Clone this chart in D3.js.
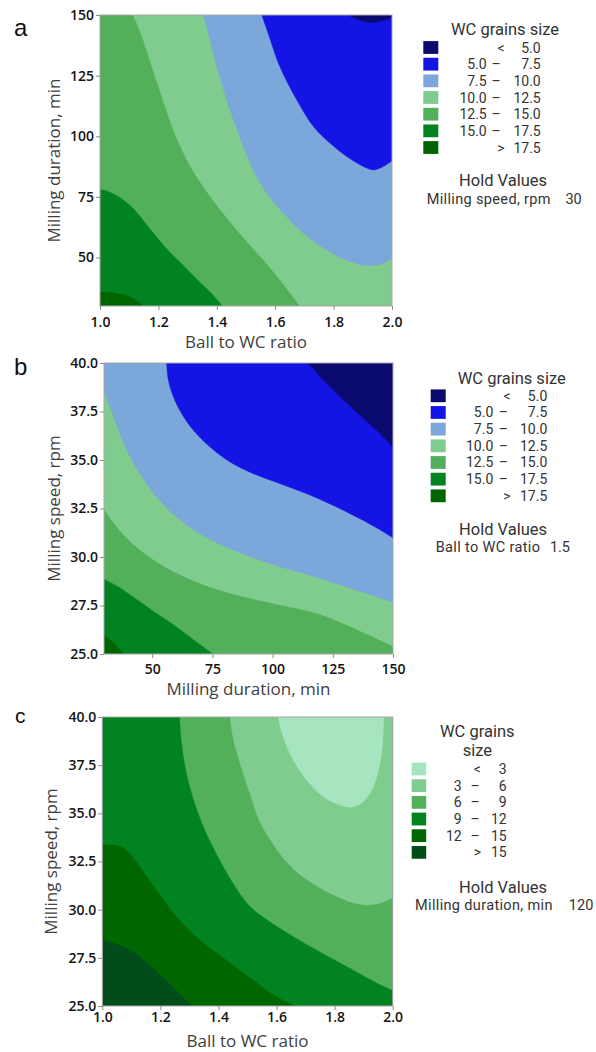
<!DOCTYPE html>
<html>
<head>
<meta charset="utf-8">
<script src="https://cdn.jsdelivr.net/npm/d3@7"></script>
<style>
  body { margin: 0; background: #fff; }
  svg text { font-family: "Open Sans", "Noto Sans", sans-serif; }
  svg .legend text { font-family: Roboto, "Open Sans", sans-serif; }
</style>
</head>
<body>
<svg id="fig" width="596" height="1052"></svg>
<script>
// ---------- data ----------
// WC grain size levels and band colours (panels a, b)
const sizeLevels = [5, 7.5, 10, 12.5, 15, 17.5];
const sizeColors = ["#0b0b6f", "#1414e4", "#7ba7da", "#80cc8f", "#52af5a", "#008320", "#006400"];
// WC grain size levels and band colours (panel c)
const sizeLevelsC = [3, 6, 9, 12, 15];
const sizeColorsC = ["#a6e5bf", "#80cc8f", "#52af5a", "#008320", "#006600", "#004d1a"];

// tick values
const ratioTicks = [1.0, 1.2, 1.4, 1.6, 1.8, 2.0];
const durationTicks = [50, 75, 100, 125, 150];
const speedTicks = [25, 27.5, 30, 32.5, 35, 37.5, 40];

// hold values
const holdA = ["Milling speed, rpm", "30"];
const holdB = ["Ball to WC ratio", "1.5"];
const holdC = ["Milling duration, min", "120"];

// panel a: iso-lines, [ball to WC ratio, milling duration]
const aIso5    = [[1.849,150],[1.890,147.9],[1.932,146.9],[1.969,147.7],[2.0,149.2]];
const aIso7_5  = [[1.554,150],[1.576,142.4],[1.616,128.7],[1.674,115.0],[1.731,104.0],[1.788,97.1],[1.845,91.6],[1.902,87.5],[1.936,86.1],[1.970,87.5],[2.0,89.9]];
const aIso10   = [[1.354,150],[1.371,142.4],[1.400,128.7],[1.434,115.0],[1.474,101.2],[1.519,87.5],[1.571,76.5],[1.639,66.8],[1.696,60.0],[1.776,53.1],[1.856,48.3],[1.925,46.6],[1.970,47.6],[2.0,49.7]];
const aIso12_5 = [[1.114,150],[1.140,142.4],[1.178,128.7],[1.216,115.0],[1.256,101.2],[1.310,87.5],[1.386,73.8],[1.478,60.0],[1.580,46.2],[1.685,30]];
const aIso15   = [[1.0,78.2],[1.034,77.1],[1.068,74.8],[1.114,70.3],[1.171,62.0],[1.228,53.8],[1.285,46.9],[1.342,40.0],[1.388,34.5],[1.42,30]];
const aIso17_5 = [[1.0,36.0],[1.06,35.3],[1.11,33.6],[1.15,30]];

// panel b: iso-lines, [milling duration, milling speed]
const bIso5    = [[114.8,40],[121.1,39.12],[128.0,38.26],[136.3,37.31],[143.2,36.53],[150,35.67]];
const bIso7_5  = [[56.0,40],[56.7,39.12],[58.8,38.26],[62.2,37.40],[67.1,36.53],[74.0,35.67],[82.3,34.90],[92.0,34.29],[103.1,33.78],[114.2,33.26],[125.2,32.66],[136.3,31.97],[144.6,31.40],[150,30.98]];
const bIso10   = [[30,38.6],[32.5,37.74],[36.0,36.53],[40.1,35.33],[45.0,34.29],[51.9,33.09],[60.2,32.05],[69.9,31.19],[80.9,30.50],[97.5,29.72],[118.3,28.95],[133.5,28.34],[143.2,27.95],[150,27.66]];
const bIso12_5 = [[30,32.48],[36.6,31.36],[43.6,30.50],[53.3,29.64],[67.1,28.78],[83.7,28.09],[101.7,27.57],[119.7,27.05],[136.3,26.19],[150,25.4]];
const bIso15   = [[30,28.86],[36.6,28.43],[43.6,27.83],[50.5,27.22],[58.8,26.53],[67.1,25.76],[75.4,25]];
const bIso17_5 = [[30,26.02],[33.9,25.59],[38.3,25]];

// panel c: iso-lines, [ball to WC ratio, milling speed]
const cIso3  = [[1.606,40],[1.623,38.98],[1.657,37.77],[1.704,36.73],[1.761,35.86],[1.818,35.43],[1.853,35.32],[1.887,35.47],[1.922,36.04],[1.945,36.90],[1.962,38.12],[1.967,39.15],[1.970,40]];
const cIso6  = [[1.440,40],[1.450,38.96],[1.474,37.61],[1.508,36.05],[1.543,34.55],[1.584,33.5],[1.622,32.7],[1.663,32.05],[1.705,31.55],[1.794,30.78],[1.887,30.28],[1.946,30.30],[2.0,30.61]];
const cIso9  = [[1.267,40],[1.274,38.63],[1.291,37.08],[1.319,35.52],[1.359,33.96],[1.405,32.58],[1.451,31.37],[1.508,30.19],[1.566,29.50],[1.622,28.95],[1.739,27.91],[1.853,26.97],[1.946,26.20],[2.0,25.83]];
const cIso12 = [[1.0,33.36],[1.050,33.36],[1.084,33.10],[1.130,32.23],[1.187,31.02],[1.256,29.64],[1.336,28.43],[1.428,27.39],[1.520,26.35],[1.600,25.49],[1.669,25]];
const cIso15 = [[1.0,28.43],[1.038,28.29],[1.107,27.82],[1.176,26.96],[1.244,26.0],[1.308,25]];

// ---------- panel setup ----------
const fmt1 = d3.format(".1f");
const fmt0 = d3.format("d");

const panels = [
  {
    id: "a", letter: "a", letterPos: [14, 36], letterSize: 24,
    box: { left: 100, right: 392, top: 15, bottom: 306 },
    xDomain: [1, 2], yDomain: [30, 150],
    xTicks: ratioTicks, yTicks: durationTicks, xFmt: fmt1, yFmt: fmt0,
    xPad: 6.6, xTitle: "Ball to WC ratio", xTitleY: 348, yTitle: "Milling duration, min", yTitleX: 60,
    levels: sizeLevels, colors: sizeColors, levelFmt: fmt1,
    // region below each level, and the plot corners that close it
    regions: [
      { level: 17.5, pts: aIso17_5, corners: ["BR", "TR", "TL"] },
      { level: 15,   pts: aIso15,   corners: ["BR", "TR", "TL"] },
      { level: 12.5, pts: aIso12_5, corners: ["BR", "TR"] },
      { level: 10,   pts: aIso10,   corners: ["TR"] },
      { level: 7.5,  pts: aIso7_5,  corners: ["TR"] },
      { level: 5,    pts: aIso5,    corners: ["TR"] }
    ],
    legend: { titleLines: ["WC grains size"], titleX: 505, titleY: 35.3, swX: 423.3, swW: 15, rowY0: 47.5,
              leftEnd: 486.7, dashX: 496, cmpX: 501, rightEnd: 540.7,
              holdY: 186.2, hold: holdA, holdLabelX: 426.7, holdValueEnd: 581.7 }
  },
  {
    id: "b", letter: "b", letterPos: [14, 375], letterSize: 24,
    box: { left: 104, right: 393, top: 363, bottom: 654 },
    xDomain: [30, 150], yDomain: [25, 40],
    xTicks: durationTicks, yTicks: speedTicks, xFmt: fmt0, yFmt: fmt1,
    xPad: 5.6, xTitle: "Milling duration, min", xTitleY: 695, yTitle: "Milling speed, rpm", yTitleX: 59.5,
    levels: sizeLevels, colors: sizeColors, levelFmt: fmt1,
    regions: [
      { level: 17.5, pts: bIso17_5, corners: ["BR", "TR", "TL"] },
      { level: 15,   pts: bIso15,   corners: ["BR", "TR", "TL"] },
      { level: 12.5, pts: bIso12_5, corners: ["TR", "TL"] },
      { level: 10,   pts: bIso10,   corners: ["TR", "TL"] },
      { level: 7.5,  pts: bIso7_5,  corners: ["TR"] },
      { level: 5,    pts: bIso5,    corners: ["TR"] }
    ],
    legend: { titleLines: ["WC grains size"], titleX: 511.7, titleY: 383.6, swX: 430.7, swW: 15, rowY0: 395.8,
              leftEnd: 493.3, dashX: 503.3, cmpX: 507, rightEnd: 547.3,
              holdY: 534.5, hold: holdB, holdLabelX: 435.7, holdValueEnd: 570 }
  },
  {
    id: "c", letter: "c", letterPos: [15, 723], letterSize: 21,
    box: { left: 102.3, right: 392.7, top: 717, bottom: 1006 },
    xDomain: [1, 2], yDomain: [25, 40],
    xTicks: ratioTicks, yTicks: speedTicks, xFmt: fmt1, yFmt: fmt1,
    xPad: 2.2, xTitle: "Ball to WC ratio", xTitleY: 1047, yTitle: "Milling speed, rpm", yTitleX: 57,
    levels: sizeLevelsC, colors: sizeColorsC, levelFmt: fmt0,
    regions: [
      { level: 15, pts: cIso15, corners: ["BR", "TR", "TL"] },
      { level: 12, pts: cIso12, corners: ["BR", "TR", "TL"] },
      { level: 9,  pts: cIso9,  corners: ["TR"] },
      { level: 6,  pts: cIso6,  corners: ["TR"] },
      { level: 3,  pts: cIso3,  corners: [] }
    ],
    legend: { titleLines: ["WC grains", "size"], titleX: 477.3, titleY: 737, titleStep: 19.4, swX: 411.7, swW: 14.5, rowY0: 769,
              leftEnd: 461.7, dashX: 475, cmpX: 477.3, rightEnd: 506.7,
              holdY: 892.8, hold: holdC, holdLabelX: 415, holdValueEnd: 593.3 }
  }
];

const svg = d3.select("#fig");
const defs = svg.append("defs");

panels.forEach(p => {
  const b = p.box;
  const x = d3.scaleLinear().domain(p.xDomain).range([b.left, b.right]);
  const y = d3.scaleLinear().domain(p.yDomain).range([b.bottom, b.top]);
  const corner = {
    TL: [p.xDomain[0], p.yDomain[1]], TR: [p.xDomain[1], p.yDomain[1]],
    BL: [p.xDomain[0], p.yDomain[0]], BR: [p.xDomain[1], p.yDomain[0]]
  };

  defs.append("clipPath").attr("id", "clip-" + p.id)
    .append("rect").attr("x", b.left).attr("y", b.top)
    .attr("width", b.right - b.left).attr("height", b.bottom - b.top);

  const g = svg.append("g").attr("class", "panel-" + p.id);
  const body = g.append("g").attr("clip-path", `url(#clip-${p.id})`);

  // highest band fills the whole plot; lower bands are painted on top
  body.append("rect")
    .attr("x", b.left).attr("y", b.top)
    .attr("width", b.right - b.left).attr("height", b.bottom - b.top)
    .attr("fill", p.colors[p.levels.length]);

  const line = d3.line().x(d => x(d[0])).y(d => y(d[1])).curve(d3.curveCatmullRom.alpha(0.5));
  p.regions.forEach(r => {
    let path = line(r.pts);
    r.corners.forEach(k => { path += `L${x(corner[k][0])},${y(corner[k][1])}`; });
    path += "Z";
    const col = p.colors[p.levels.indexOf(r.level)];
    body.append("path")
      .attr("d", path)
      .attr("fill", col)
      .attr("stroke", col)
      .attr("stroke-width", 0.4);
  });

  // frame
  g.append("rect")
    .attr("x", b.left).attr("y", b.top)
    .attr("width", b.right - b.left).attr("height", b.bottom - b.top)
    .attr("fill", "none").attr("stroke", "#a8a8a8").attr("stroke-width", 1);

  // axes
  const xAxis = g.append("g").attr("transform", `translate(0,${b.bottom})`)
    .call(d3.axisBottom(x).tickValues(p.xTicks).tickFormat(p.xFmt).tickSize(4).tickPadding(p.xPad));
  const yAxis = g.append("g").attr("transform", `translate(${b.left},0)`)
    .call(d3.axisLeft(y).tickValues(p.yTicks).tickFormat(p.yFmt).tickSize(4).tickPadding(2));
  [xAxis, yAxis].forEach(ax => {
    ax.select(".domain").remove();
    ax.selectAll(".tick line").attr("stroke", "#8c8c8c");
    ax.selectAll(".tick text").attr("fill", "#141414").style("font-size", "14px")
      .style("font-weight", "600")
      .style("font-family", '"Open Sans", sans-serif');
  });

  // axis titles
  g.append("text").attr("x", (b.left + b.right) / 2).attr("y", p.xTitleY)
    .attr("text-anchor", "middle").attr("fill", "#404040").style("font-size", "17px")
    .text(p.xTitle);
  g.append("text")
    .attr("transform", `translate(${p.yTitleX},${(b.top + b.bottom) / 2}) rotate(-90)`)
    .attr("text-anchor", "middle").attr("fill", "#404040").style("font-size", "17px")
    .text(p.yTitle);

  // panel letter
  g.append("text").attr("x", p.letterPos[0]).attr("y", p.letterPos[1])
    .style("font-family", '"Liberation Sans", Arial, sans-serif')
    .style("font-size", p.letterSize + "px").attr("fill", "#111")
    .text(p.letter);

  // legend
  const L = p.legend;
  const lg = g.append("g").attr("class", "legend").attr("fill", "#333");
  L.titleLines.forEach((t, i) => {
    lg.append("text").attr("x", L.titleX).attr("y", L.titleY + i * (L.titleStep || 0))
      .attr("text-anchor", "middle").style("font-size", "16.5px").text(t);
  });
  const n = p.levels.length;
  const rowStep = 16.67;
  d3.range(n + 1).forEach(i => {
    const cy = L.rowY0 + i * rowStep;
    lg.append("rect").attr("x", L.swX).attr("y", cy - 6.4)
      .attr("width", L.swW).attr("height", 12.8).attr("fill", p.colors[i]);
    const ty = cy + 5;
    if (i === 0 || i === n) {
      lg.append("text").attr("x", L.cmpX).attr("y", ty).attr("text-anchor", "middle")
        .style("font-size", "14px").text(i === 0 ? "<" : ">");
      lg.append("text").attr("x", L.rightEnd).attr("y", ty).attr("text-anchor", "end")
        .style("font-size", "14px").text(p.levelFmt(i === 0 ? p.levels[0] : p.levels[n - 1]));
    } else {
      lg.append("text").attr("x", L.leftEnd).attr("y", ty).attr("text-anchor", "end")
        .style("font-size", "14px").text(p.levelFmt(p.levels[i - 1]));
      lg.append("text").attr("x", L.dashX).attr("y", ty).attr("text-anchor", "middle")
        .style("font-size", "14px").text("–");
      lg.append("text").attr("x", L.rightEnd).attr("y", ty).attr("text-anchor", "end")
        .style("font-size", "14px").text(p.levelFmt(p.levels[i]));
    }
  });
  lg.append("text").attr("x", 503).attr("y", L.holdY).attr("text-anchor", "middle")
    .style("font-size", "16.5px").text("Hold Values");
  lg.append("text").attr("x", L.holdLabelX).attr("y", L.holdY + 17.6)
    .style("font-size", "14.5px").style("letter-spacing", "0.35px").text(L.hold[0]);
  lg.append("text").attr("x", L.holdValueEnd).attr("y", L.holdY + 17.6).attr("text-anchor", "end")
    .style("font-size", "14.5px").text(L.hold[1]);
});
</script>
</body>
</html>
